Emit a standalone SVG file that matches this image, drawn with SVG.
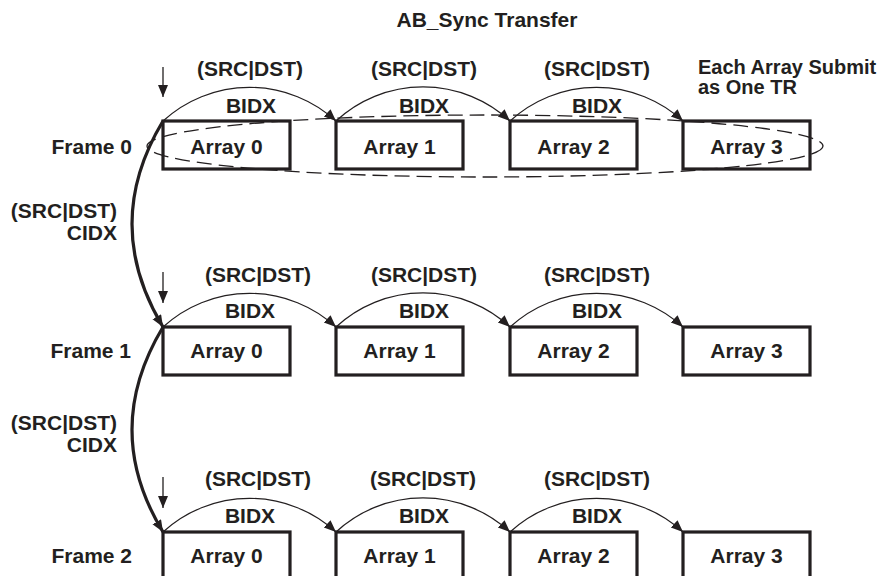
<svg xmlns="http://www.w3.org/2000/svg" width="889" height="576" viewBox="0 0 889 576">
<style>
text{font-family:"Liberation Sans",Arial,sans-serif;font-weight:bold;font-size:21px;fill:#231f20}
.c{text-anchor:middle}
.r{text-anchor:end}
.note{font-size:20px}
.box{fill:none;stroke:#231f20;stroke-width:3.2}
.arc{fill:none;stroke:#231f20;stroke-width:1.2}
.thick{fill:none;stroke:#231f20;stroke-width:3.2}
.down{fill:none;stroke:#231f20;stroke-width:1.3}
.ell{fill:none;stroke:#231f20;stroke-width:1.3;stroke-dasharray:15 7}
</style>
<defs>
<marker id="ah" markerUnits="userSpaceOnUse" markerWidth="14" markerHeight="12" refX="12" refY="5" orient="auto">
<path d="M0,0 L12,5 L0,10 z" fill="#231f20"/>
</marker>
<marker id="ahb" markerUnits="userSpaceOnUse" markerWidth="14" markerHeight="12" refX="12" refY="5" orient="auto">
<path d="M0,0 L12,5 L0,10 z" fill="#231f20"/>
</marker>
</defs>
<rect width="889" height="576" fill="#fff"/>
<text class="c" x="487" y="27">AB_Sync Transfer</text>

<g id="frame0">
<text class="r" x="132" y="154">Frame 0</text>
<g id="f0a0"><rect class="box" x="163" y="121" width="127" height="48"/><text class="c" x="226.5" y="154">Array 0</text></g>
<g id="f0a1"><rect class="box" x="336" y="121" width="127" height="48"/><text class="c" x="399.5" y="154">Array 1</text></g>
<g id="f0a2"><rect class="box" x="510" y="121" width="127" height="48"/><text class="c" x="573.5" y="154">Array 2</text></g>
<g id="f0a3"><rect class="box" x="683" y="121" width="127" height="48"/><text class="c" x="746.5" y="154">Array 3</text></g>
<text class="c" x="250" y="76">(SRC|DST)</text>
<text class="c" x="424" y="76">(SRC|DST)</text>
<text class="c" x="597" y="76">(SRC|DST)</text>
<text class="c" x="251" y="113">BIDX</text>
<text class="c" x="424" y="113">BIDX</text>
<text class="c" x="597" y="113">BIDX</text>
<text class="note" x="698" y="74">Each Array Submit</text>
<text class="note" x="698" y="94">as One TR</text>
</g>

<g id="frame1">
<text class="r" x="131" y="358">Frame 1</text>
<g id="f1a0"><rect class="box" x="163" y="327" width="127" height="48"/><text class="c" x="226.5" y="358">Array 0</text></g>
<g id="f1a1"><rect class="box" x="336" y="327" width="127" height="48"/><text class="c" x="399.5" y="358">Array 1</text></g>
<g id="f1a2"><rect class="box" x="510" y="327" width="127" height="48"/><text class="c" x="573.5" y="358">Array 2</text></g>
<g id="f1a3"><rect class="box" x="683" y="327" width="127" height="48"/><text class="c" x="746.5" y="358">Array 3</text></g>
<text class="c" x="258" y="282">(SRC|DST)</text>
<text class="c" x="424" y="282">(SRC|DST)</text>
<text class="c" x="597" y="282">(SRC|DST)</text>
<text class="c" x="250" y="318">BIDX</text>
<text class="c" x="424" y="318">BIDX</text>
<text class="c" x="597" y="318">BIDX</text>
</g>

<g id="frame2">
<text class="r" x="132" y="563">Frame 2</text>
<g id="f2a0"><rect class="box" x="163" y="532" width="127" height="48"/><text class="c" x="226.5" y="563">Array 0</text></g>
<g id="f2a1"><rect class="box" x="336" y="532" width="127" height="48"/><text class="c" x="399.5" y="563">Array 1</text></g>
<g id="f2a2"><rect class="box" x="510" y="532" width="127" height="48"/><text class="c" x="573.5" y="563">Array 2</text></g>
<g id="f2a3"><rect class="box" x="683" y="532" width="127" height="48"/><text class="c" x="746.5" y="563">Array 3</text></g>
<text class="c" x="258" y="486">(SRC|DST)</text>
<text class="c" x="423" y="486">(SRC|DST)</text>
<text class="c" x="597" y="486">(SRC|DST)</text>
<text class="c" x="250" y="523">BIDX</text>
<text class="c" x="424" y="523">BIDX</text>
<text class="c" x="597" y="523">BIDX</text>
</g>

<g id="cidx-labels">
<text class="r" x="117" y="218">(SRC|DST)</text>
<text class="r" x="117" y="240">CIDX</text>
<text class="r" x="117" y="430">(SRC|DST)</text>
<text class="r" x="117" y="452">CIDX</text>
</g>

<g id="group-ellipse">
<ellipse class="ell" cx="485" cy="146" rx="338" ry="31"/>
</g>

<g id="connectors">
<path class="arc" d="M163,121 A128,128 0 0 1 336,121" marker-end="url(#ah)"/>
<path class="arc" d="M336,121 A128,128 0 0 1 510,121" marker-end="url(#ah)"/>
<path class="arc" d="M510,121 A128,128 0 0 1 683,121" marker-end="url(#ah)"/>
<path class="arc" d="M163,327 A128,128 0 0 1 336,327" marker-end="url(#ah)"/>
<path class="arc" d="M336,327 A128,128 0 0 1 510,327" marker-end="url(#ah)"/>
<path class="arc" d="M510,327 A128,128 0 0 1 683,327" marker-end="url(#ah)"/>
<path class="arc" d="M163,532 A128,128 0 0 1 336,532" marker-end="url(#ah)"/>
<path class="arc" d="M336,532 A128,128 0 0 1 510,532" marker-end="url(#ah)"/>
<path class="arc" d="M510,532 A128,128 0 0 1 683,532" marker-end="url(#ah)"/>
<path class="thick" d="M163,121 Q101,224 163,327" marker-end="url(#ahb)"/>
<path class="thick" d="M163,327 Q101,430 163,532" marker-end="url(#ahb)"/>
<path class="down" d="M163,67 L163,97" marker-end="url(#ah)"/>
<path class="down" d="M163,272 L163,303" marker-end="url(#ah)"/>
<path class="down" d="M163,477 L163,508" marker-end="url(#ah)"/>
</g>
</svg>
